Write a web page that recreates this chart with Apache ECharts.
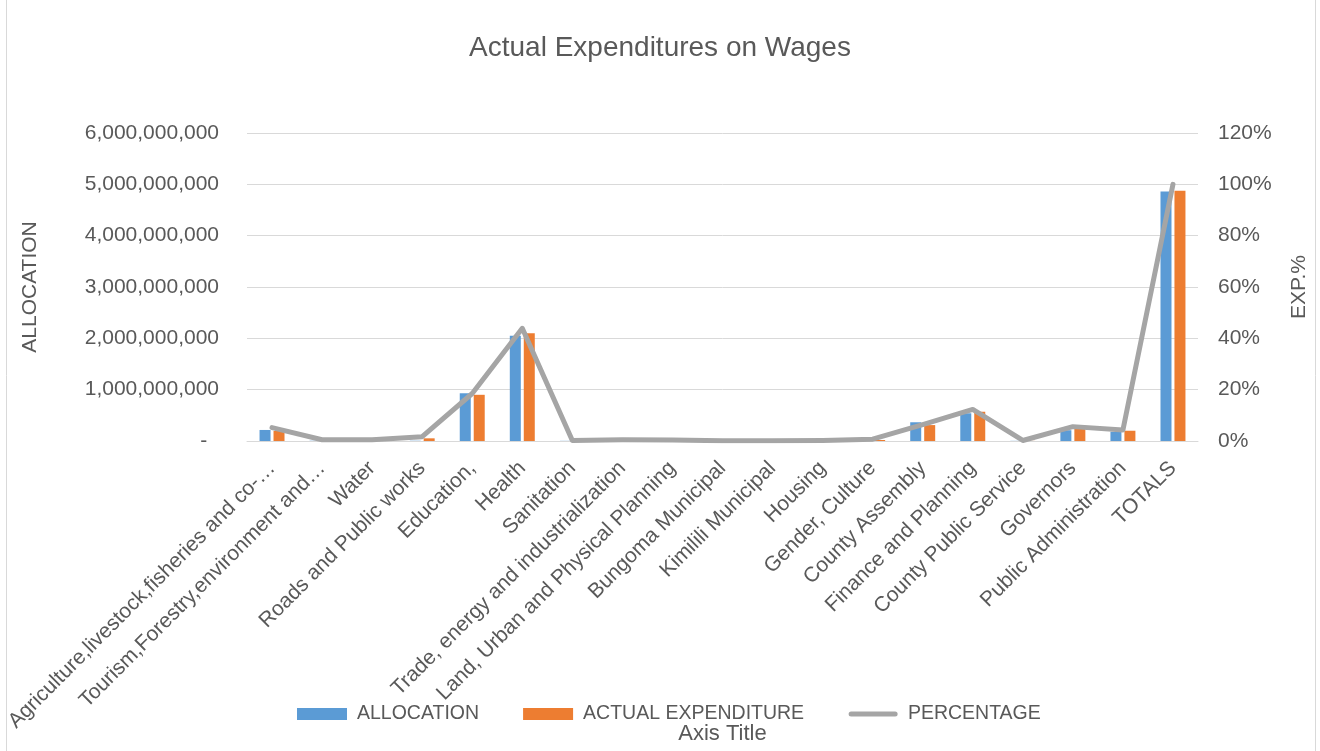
<!DOCTYPE html>
<html>
<head>
<meta charset="utf-8">
<script src="https://cdn.jsdelivr.net/npm/echarts@6/dist/echarts.min.js"></script>
<style>
html,body{margin:0;padding:0;background:#fff;}
#main{width:1320px;height:751px;}
</style>
</head>
<body>
<div id="main"></div>
<script>
const categories = [
  "Agriculture,livestock,fisheries and co-…",
  "Tourism,Forestry,environment and…",
  "Water",
  "Roads and Public works",
  "Education,",
  "Health",
  "Sanitation",
  "Trade, energy and industrialization",
  "Land, Urban and Physical Planning",
  "Bungoma Municipal",
  "Kimilili Municipal",
  "Housing",
  "Gender, Culture",
  "County Assembly",
  "Finance and Planning",
  "County Public Service",
  "Governors",
  "Public Administration",
  "TOTALS"
];
const allocation = [215e6, 5e6, 4e6, 5e6, 930e6, 2050e6, 3e6, 5e6, 5e6, 2e6, 2e6, 4e6, 5e6, 365e6, 540e6, 3e6, 210e6, 180e6, 4860e6];
const actualExpenditure = [195e6, 4e6, 3e6, 52e6, 900e6, 2100e6, 2e6, 4e6, 4e6, 1e6, 1e6, 3e6, 20e6, 310e6, 570e6, 2e6, 245e6, 200e6, 4875e6];
const percentage = [5.2, 0.5, 0.5, 1.7, 18.5, 43.9, 0.2, 0.5, 0.4, 0.1, 0.1, 0.2, 0.7, 6.4, 12.3, 0.2, 5.6, 4.3, 100];
const leftTicks = {min: 0, max: 6000000000, interval: 1000000000};
const rightTicks = {min: 0, max: 120, interval: 20};

const FONT = "Liberation Sans";
const TXT = "#595959";
const lineIcon = 'path://M0,0L0.01,0L0.01,0Z M0,12L0.01,12L0.01,12Z M3,3.5L47,3.5A2.5,2.5 0 0 1 47,8.5L3,8.5A2.5,2.5 0 0 1 3,3.5Z';
const chart = echarts.init(document.getElementById('main'), null, {renderer: 'canvas'});
chart.setOption({
  backgroundColor: '#ffffff',
  textStyle: {fontFamily: FONT, color: TXT},
  title: {
    text: 'Actual Expenditures on Wages',
    left: 'center', top: 29,
    textStyle: {fontFamily: FONT, fontSize: 28, fontWeight: 'normal', color: TXT}
  },
  graphic: [{
    type: 'rect', shape: {x: 6.5, y: -2, width: 1309, height: 760},
    style: {fill: 'none', stroke: '#d9d9d9', lineWidth: 1}, silent: true
  }],
  legend: {
    bottom: 22, left: 292,
    itemWidth: 50, itemHeight: 12, itemGap: 44,
    textStyle: {fontFamily: FONT, fontSize: 19.5, color: TXT, padding: [0, 0, 0, 5]},
    data: [
      {name: 'ALLOCATION', icon: 'rect'},
      {name: 'ACTUAL EXPENDITURE', icon: 'rect'},
      {name: 'PERCENTAGE', icon: lineIcon, itemStyle: {color: '#a5a5a5', borderWidth: 0}, lineStyle: {width: 0, opacity: 0}}
    ]
  },
  grid: {left: 247, right: 122, top: 133, bottom: 310, containLabel: false, outerBoundsMode: 'none'},
  xAxis: {
    type: 'category', data: categories,
    name: 'Axis Title', nameLocation: 'middle', nameGap: 282, nameMoveOverlap: false,
    nameTextStyle: {fontFamily: FONT, fontSize: 22, color: TXT},
    axisLine: {show: true, lineStyle: {color: '#d9d9d9', width: 1}},
    axisTick: {show: false},
    axisLabel: {rotate: 45, interval: 0, margin: 24, fontFamily: FONT, fontSize: 21, color: TXT}
  },
  yAxis: [{
    type: 'value', min: leftTicks.min, max: leftTicks.max, interval: leftTicks.interval,
    name: 'ALLOCATION', nameLocation: 'middle', nameRotate: 90, nameGap: 206, nameMoveOverlap: false,
    nameTextStyle: {fontFamily: FONT, fontSize: 21, color: TXT},
    axisLine: {show: false}, axisTick: {show: false},
    splitLine: {lineStyle: {color: '#d9d9d9', width: 1}},
    axisLabel: {
      margin: 28, fontFamily: FONT, fontSize: 21, color: TXT,
      formatter: v => v === 0 ? '-  ' : v.toLocaleString('en-US')
    }
  }, {
    type: 'value', min: rightTicks.min, max: rightTicks.max, interval: rightTicks.interval,
    name: 'EXP.%', nameLocation: 'middle', nameRotate: 90, nameGap: 91, nameMoveOverlap: false,
    nameTextStyle: {fontFamily: FONT, fontSize: 21, color: TXT},
    axisLine: {show: false}, axisTick: {show: false},
    splitLine: {show: false},
    axisLabel: {margin: 20, fontFamily: FONT, fontSize: 21, color: TXT, formatter: '{value}%'}
  }],
  series: [{
    name: 'ALLOCATION', type: 'bar', data: allocation, yAxisIndex: 0,
    barWidth: 11, barGap: '27%',
    itemStyle: {color: '#5b9bd5'}
  }, {
    name: 'ACTUAL EXPENDITURE', type: 'bar', data: actualExpenditure, yAxisIndex: 0,
    barWidth: 11, barGap: '27%',
    itemStyle: {color: '#ed7d31'}
  }, {
    name: 'PERCENTAGE', type: 'line', data: percentage, yAxisIndex: 1,
    showSymbol: false, symbol: 'none',
    lineStyle: {color: '#a5a5a5', width: 5, cap: 'round', join: 'round'},
    itemStyle: {color: '#a5a5a5'}
  }],
  animation: false
});
</script>
</body>
</html>
